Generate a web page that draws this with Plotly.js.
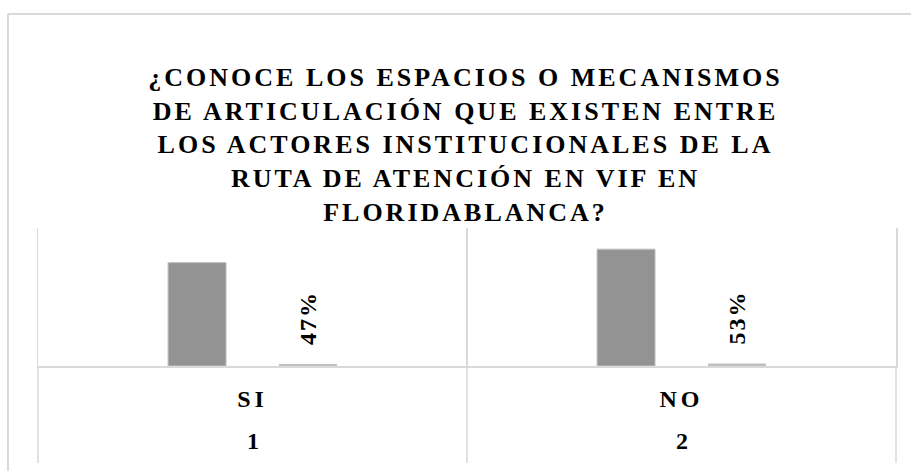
<!DOCTYPE html>
<html>
<head>
<meta charset="utf-8">
<script src="https://cdn.plot.ly/plotly-3.0.1.min.js"></script>
<style>
  html, body { margin: 0; padding: 0; background: #fff; }
  #chart { width: 911px; height: 471px; }
  .gtitle { letter-spacing: 3px; }
  .xtick text { letter-spacing: 4px; }
  .bartext { letter-spacing: 2px; }
</style>
</head>
<body>
<div id="chart"></div>
<script>
// Data
const outerLabels = ["1", "2"];
const innerLabels = ["SI", "NO"];
const counts = [23, 26];
const shares = [0.47, 0.53];
const titleLines = [
  "¿CONOCE LOS ESPACIOS O MECANISMOS",
  "DE ARTICULACIÓN QUE EXISTEN ENTRE",
  "LOS ACTORES INSTITUCIONALES DE LA",
  "RUTA DE ATENCIÓN EN VIF EN",
  "FLORIDABLANCA?"
];

const serif = "'Liberation Serif', 'Times New Roman', serif";
const boldFont = (size) => ({ family: serif, size: size, color: "#000", weight: 700 });

const traces = [
  {
    type: "bar",
    x: innerLabels,
    y: counts,
    marker: { color: "#939393", line: { color: "#c4c4c4", width: 1 } },
    hoverinfo: "skip",
    showlegend: false
  },
  {
    type: "bar",
    x: innerLabels,
    y: shares,
    marker: { color: "#bfbfbf", line: { width: 0 } },
    texttemplate: "\u00a0\u00a0%{y:.0%}",
    textposition: "outside",
    textangle: -90,
    cliponaxis: false,
    constraintext: "none",
    textfont: boldFont(24),
    hoverinfo: "skip",
    showlegend: false
  }
];

const annotations = innerLabels.map((c, i) => ({
  x: c, xref: "x", y: -0.543, yref: "paper",
  text: outerLabels[i], showarrow: false,
  xanchor: "center", yanchor: "middle",
  font: boldFont(24)
}));

const dividerLines = [0, 0.5, 1].map(p => ({
  type: "line", xref: "paper", yref: "paper", x0: p, x1: p, y0: 0, y1: -0.703,
  line: { color: "#d9d9d9", width: 1.5 }
}));

const layout = {
  width: 911,
  height: 471,
  margin: { l: 38, r: 15, t: 228, b: 105 },
  paper_bgcolor: "#ffffff",
  plot_bgcolor: "#ffffff",
  barmode: "group",
  bargap: 0.483,
  bargroupgap: 0.477,
  title: {
    text: titleLines.join("<br>"),
    font: boldFont(26),
    x: 0.511,
    xanchor: "center",
    xref: "container",
    y: 0.818,
    yanchor: "top",
    yref: "container"
  },
  xaxis: {
    type: "category",
    showgrid: true,
    tickson: "boundaries",
    gridcolor: "#d9d9d9",
    gridwidth: 1.5,
    showline: true,
    linecolor: "#d9d9d9",
    linewidth: 1.5,
    ticks: "",
    ticklabelstandoff: 11,
    tickfont: boldFont(24),
    fixedrange: true
  },
  yaxis: {
    range: [0, 30.7],
    showticklabels: false,
    ticks: "",
    showline: true,
    mirror: true,
    linecolor: "#d9d9d9",
    linewidth: 1.5,
    showgrid: false,
    zeroline: false,
    fixedrange: true
  },
  annotations: annotations,
  shapes: [
    { type: "line", xref: "paper", yref: "paper", x0: -0.035, x1: 1.2, y0: 2.55, y1: 2.55,
      line: { color: "#d9d9d9", width: 2 } },
    { type: "line", xref: "paper", yref: "paper", x0: -0.035, x1: -0.035, y0: 2.55, y1: -1.2,
      line: { color: "#d9d9d9", width: 2 } }
  ].concat(dividerLines)
};

Plotly.newPlot("chart", traces, layout, { displayModeBar: false, staticPlot: true });
</script>
</body>
</html>
